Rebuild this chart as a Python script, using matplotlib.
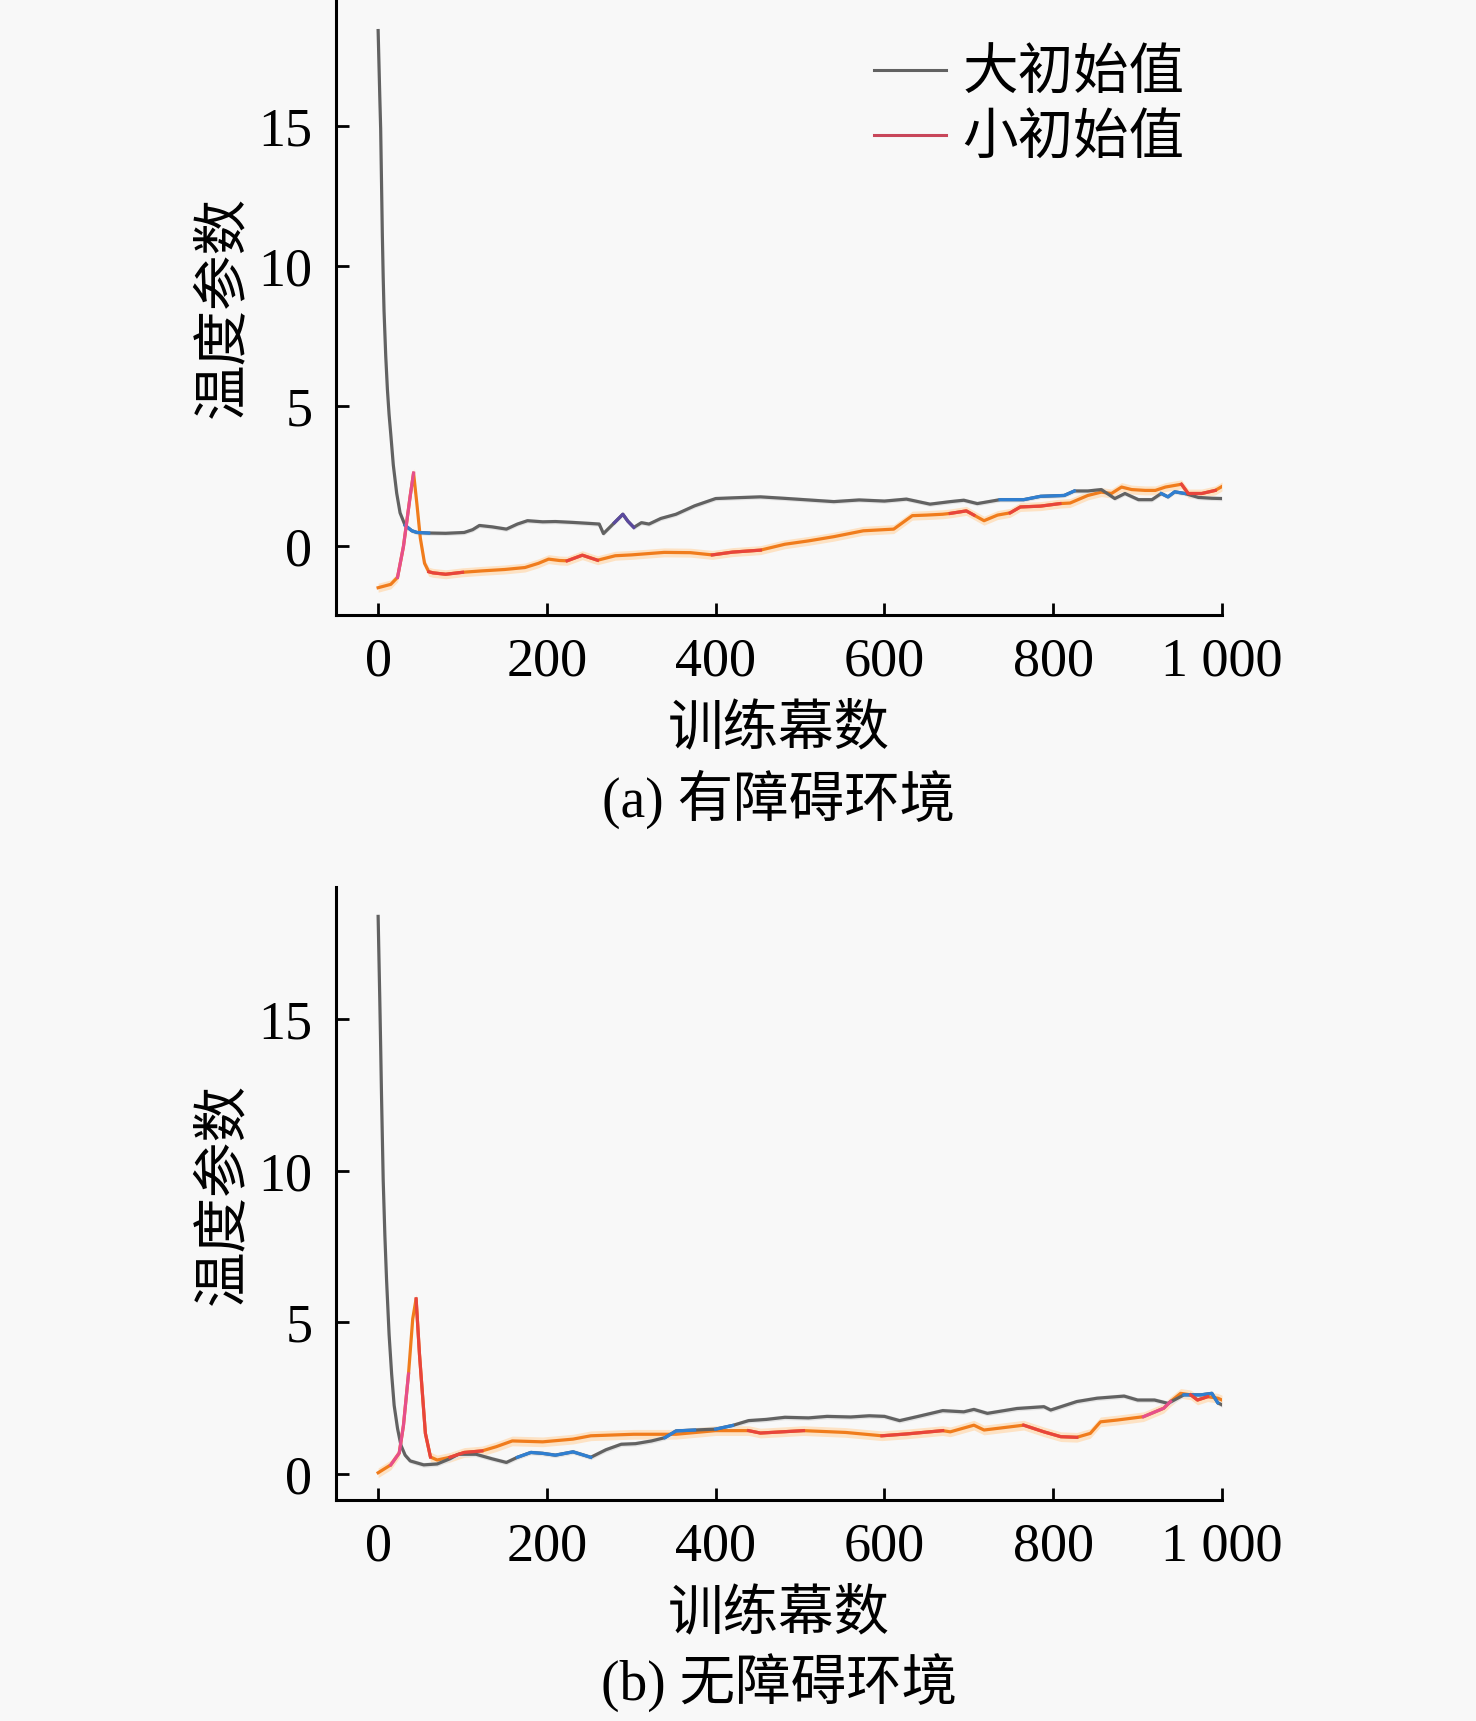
import matplotlib
matplotlib.use("Agg")
import matplotlib.pyplot as plt
from matplotlib.lines import Line2D
import numpy as np

plt.rcParams['font.family'] = ['Liberation Serif', 'Noto Sans CJK SC']
plt.rcParams['axes.unicode_minus'] = False

# ---- (a) 有障碍环境 ----
ep_a_big = [0, 1, 2, 3, 4, 5, 6, 7, 9, 11, 13, 15, 18, 22, 26, 32, 40, 46, 60, 80, 102, 112, 120,
            135, 152, 165, 177, 195, 210, 230, 252, 262, 267, 280, 290, 296, 303, 312, 321, 335,
            353, 375, 400, 425, 453, 480, 510, 540, 570, 600, 626, 654, 678, 694, 710, 737, 765,
            785, 813, 825, 841, 857, 873, 885, 901, 917, 928, 936, 944, 956, 972, 988, 1000]
val_a_big = [18.4, 17.2, 16.0, 14.9, 13.0, 11.1, 9.6, 8.4, 6.8, 5.6, 4.7, 4.0, 2.9, 1.9, 1.2, 0.75,
             0.56, 0.5, 0.48, 0.47, 0.5, 0.6, 0.75, 0.7, 0.62, 0.8, 0.92, 0.88, 0.89, 0.86, 0.82,
             0.8, 0.46, 0.85, 1.15, 0.9, 0.68, 0.85, 0.8, 1.0, 1.15, 1.45, 1.71, 1.74, 1.77, 1.72,
             1.66, 1.6, 1.66, 1.62, 1.69, 1.51, 1.6, 1.65, 1.53, 1.67, 1.67, 1.79, 1.82, 1.98,
             1.98, 2.03, 1.71, 1.89, 1.67, 1.67, 1.89, 1.77, 1.95, 1.89, 1.75, 1.72, 1.71]

ep_a_small = [0, 15, 23, 30, 34, 38, 42, 46, 50, 55, 60, 65, 80, 100, 123, 150, 174, 190, 202,
              215, 224, 242, 260, 281, 300, 339, 370, 396, 420, 453, 482, 510, 540, 575, 611, 633,
              650, 669, 678, 697, 706, 718, 734, 749, 761, 785, 808, 820, 841, 857, 869, 881, 893,
              909, 921, 933, 952, 960, 976, 992, 1000]
val_a_small = [-1.47, -1.35, -1.1, 0.0, 0.9, 1.8, 2.62, 1.5, 0.3, -0.6, -0.9, -0.94, -0.99, -0.92,
               -0.87, -0.82, -0.75, -0.6, -0.45, -0.5, -0.51, -0.31, -0.49, -0.33, -0.3, -0.21,
               -0.22, -0.3, -0.2, -0.13, 0.08, 0.2, 0.35, 0.56, 0.62, 1.1, 1.12, 1.15, 1.18, 1.27,
               1.12, 0.92, 1.12, 1.2, 1.41, 1.44, 1.53, 1.55, 1.82, 1.94, 1.89, 2.12, 2.03, 2.0,
               2.0, 2.12, 2.22, 1.89, 1.89, 2.0, 2.14]

# ---- (b) 无障碍环境 ----
ep_b_big = [0, 1, 2, 3, 4, 5, 6, 8, 10, 13, 16, 19, 23, 27, 32, 38, 54, 70, 85, 95, 116, 135, 152,
            165, 181, 195, 210, 231, 252, 270, 288, 305, 324, 340, 353, 375, 400, 420, 439, 460,
            482, 510, 532, 560, 582, 600, 618, 640, 669, 694, 706, 722, 757, 789, 797, 828, 852,
            884, 900, 920, 936, 955, 975, 988, 995, 1000]
val_b_big = [18.4, 17.0, 15.6, 14.1, 12.5, 11.1, 9.7, 7.86, 6.4, 4.6, 3.3, 2.26, 1.5, 0.95, 0.62,
             0.43, 0.3, 0.33, 0.5, 0.65, 0.65, 0.5, 0.38, 0.55, 0.71, 0.68, 0.62, 0.73, 0.55, 0.8,
             0.98, 1.0, 1.09, 1.2, 1.42, 1.45, 1.48, 1.6, 1.76, 1.8, 1.87, 1.85, 1.9, 1.88, 1.92,
             1.9, 1.76, 1.9, 2.09, 2.05, 2.13, 2.0, 2.16, 2.22, 2.11, 2.39, 2.5, 2.57, 2.44, 2.44,
             2.33, 2.61, 2.61, 2.66, 2.35, 2.28]

ep_b_small = [0, 15, 25, 30, 36, 41, 45, 49, 56, 62, 70, 85, 102, 123, 140, 159, 195, 231, 252,
              303, 353, 400, 439, 453, 504, 554, 597, 626, 669, 678, 706, 718, 765, 789, 809, 828,
              844, 856, 876, 907, 931, 939, 951, 963, 971, 983, 995, 1000]
val_b_small = [0.04, 0.3, 0.69, 1.6, 3.3, 5.12, 5.78, 3.95, 1.34, 0.56, 0.46, 0.55, 0.71, 0.76,
               0.9, 1.09, 1.06, 1.15, 1.26, 1.31, 1.31, 1.43, 1.43, 1.35, 1.43, 1.37, 1.26, 1.32,
               1.43, 1.39, 1.61, 1.45, 1.61, 1.39, 1.23, 1.21, 1.34, 1.72, 1.78, 1.89, 2.17, 2.39,
               2.66, 2.61, 2.44, 2.55, 2.5, 2.44]

xticks = [0, 200, 400, 600, 800, 1000]
xtick_labels = ['0', '200', '400', '600', '800', '1 000']
yticks = [0, 5, 10, 15]
legend_labels = ['大初始值', '小初始值']
captions = ['(a) 有障碍环境', '(b) 无障碍环境']

# 颜色
BG = '#f8f8f8'
GRAY = '#626262'
ORANGE = '#f07c1c'
RED = '#e8453c'
PINK = '#e64f8c'
BLUE = '#2f7fd2'
PURPLE = '#5b4a9e'
BAND = '#fde2c4'

# 叠加的彩色片段 (episode 区间)
accents_a = {
    'big': [((30, 60), BLUE), ((280, 303), PURPLE), ((737, 825), BLUE), ((928, 956), BLUE)],
    'small': [((23, 42), PINK), ((60, 100), RED), ((224, 260), RED), ((396, 453), RED),
              ((678, 706), RED), ((749, 808), RED), ((952, 992), RED)],
}
accents_b = {
    'big': [((165, 252), BLUE), ((340, 375), BLUE), ((400, 420), BLUE), ((955, 995), BLUE)],
    'small': [((15, 36), PINK), ((45, 62), RED), ((85, 123), RED), ((420, 504), RED),
              ((597, 669), RED), ((765, 828), RED), ((907, 939), PINK), ((963, 983), RED)],
}

FS = 39


def draw_panel(ax, ep_big, val_big, ep_small, val_small, accents, ylim, caption):
    ax.set_facecolor(BG)
    ep_big = np.array(ep_big)
    val_big = np.array(val_big)
    ep_small = np.array(ep_small)
    val_small = np.array(val_small)

    ax.fill_between(ep_small, val_small - 0.16, val_small + 0.16, color=BAND, lw=0, zorder=1)
    ax.fill_between(ep_big, val_big - 0.08, val_big + 0.08, color='#e4e4e4', lw=0, zorder=1)

    ax.plot(ep_small, val_small, color=ORANGE, lw=2.3, zorder=3)
    ax.plot(ep_big, val_big, color=GRAY, lw=2.3, zorder=3)

    for key, ep, val in (('big', ep_big, val_big), ('small', ep_small, val_small)):
        for (lo, hi), c in accents[key]:
            m = (ep >= lo) & (ep <= hi)
            ax.plot(ep[m], val[m], color=c, lw=2.3, zorder=4)

    ax.set_xlim(-50, 1000)
    ax.set_ylim(*ylim)
    ax.set_xticks(xticks)
    ax.set_xticklabels(xtick_labels)
    ax.set_yticks(yticks)
    ax.tick_params(axis='both', direction='in', length=9, width=2, labelsize=FS)
    ax.tick_params(axis='x', pad=16)
    ax.tick_params(axis='y', pad=17)
    for s in ['top', 'right']:
        ax.spines[s].set_visible(False)
    for s in ['left', 'bottom']:
        ax.spines[s].set_linewidth(2.2)
    ax.set_xlabel('训练幕数', fontsize=FS + 1, labelpad=12)
    ax.set_ylabel('温度参数', fontsize=FS + 1, labelpad=6)
    ax.text(0.5, -0.30, caption, transform=ax.transAxes, ha='center', va='center', fontsize=FS + 1)


fig = plt.figure(figsize=(14.76, 17.21), dpi=100, facecolor=BG)
ax1 = fig.add_axes([0.2276, 0.6427, 0.6003, 0.3573])
ax2 = fig.add_axes([0.2276, 0.1284, 0.6003, 0.3562])

draw_panel(ax1, ep_a_big, val_a_big, ep_a_small, val_a_small, accents_a, (-2.44, 19.49), captions[0])
draw_panel(ax2, ep_b_big, val_b_big, ep_b_small, val_b_small, accents_b, (-0.86, 19.37), captions[1])

handles = [Line2D([], [], color=GRAY, lw=2.2), Line2D([], [], color='#c8465a', lw=2.2)]
fig.legend(handles, legend_labels, loc='upper left', bbox_to_anchor=(0.592, 0.971),
           frameon=False, fontsize=FS + 1, handlelength=1.3, handletextpad=0.3,
           labelspacing=0.22, borderpad=0, borderaxespad=0)

fig.savefig('out.png', dpi=100, facecolor=BG)
